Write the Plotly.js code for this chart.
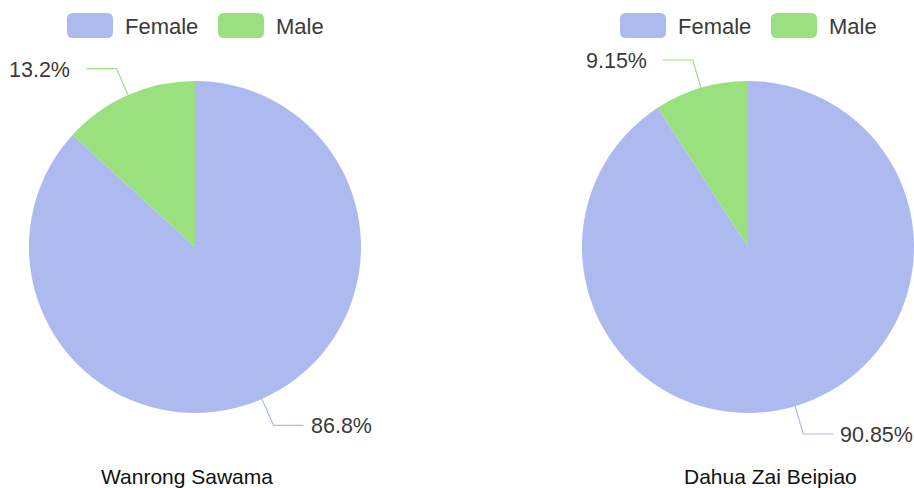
<!DOCTYPE html>
<html>
<head>
<meta charset="utf-8">
<script src="https://cdn.plot.ly/plotly-3.0.1.min.js"></script>
<style>
  html, body { margin: 0; padding: 0; background: #ffffff; }
  #chart { width: 914px; height: 488px; }
</style>
</head>
<body>
<div id="chart"></div>
<script>
// Gender split of two groups, one pie per group
const categories = ['Female', 'Male'];
const groupNames = ['Wanrong Sawama', 'Dahua Zai Beipiao'];
const wanrongShares = [86.8, 13.2];
const dahuaShares = [90.85, 9.15];
const sliceColors = ['#adbaf0', '#9ae07e'];

const W = 914, H = 488;
const FONT = '"Liberation Sans", Arial, Helvetica, sans-serif';

// pixel -> paper helpers
const px = v => v / W;
const py = v => 1 - v / H;

// layout of each pie (pixel space)
const pies = [
  { values: wanrongShares, cx: 195, cy: 247, titleX: 187 },
  { values: dahuaShares,   cx: 748, cy: 247, titleX: 770 }
];
const R = 166;        // pie radius
const R_LINE = 195;   // end of the radial part of the leader line
const H_LINE = 30;    // horizontal part of the leader line

const traces = [];
const shapes = [];
const annotations = [];

function roundRect(x0, y0, x1, y1, r) {
  const p = (x, y) => px(x) + ',' + py(y);
  return 'M' + p(x0 + r, y0) +
    ' L' + p(x1 - r, y0) + ' Q' + p(x1, y0) + ' ' + p(x1, y0 + r) +
    ' L' + p(x1, y1 - r) + ' Q' + p(x1, y1) + ' ' + p(x1 - r, y1) +
    ' L' + p(x0 + r, y1) + ' Q' + p(x0, y1) + ' ' + p(x0, y1 - r) +
    ' L' + p(x0, y0 + r) + ' Q' + p(x0, y0) + ' ' + p(x0 + r, y0) + ' Z';
}

pies.forEach((pie, i) => {
  traces.push({
    type: 'pie',
    labels: categories,
    values: pie.values,
    sort: false,
    direction: 'clockwise',
    rotation: 0,
    textinfo: 'none',
    hoverinfo: 'label+percent',
    showlegend: false,
    marker: { colors: sliceColors, line: { width: 0 } },
    domain: {
      x: [px(pie.cx - R), Math.min(1, px(pie.cx + R))],
      y: [py(pie.cy + R), py(pie.cy - R)]
    }
  });

  // outside labels with leader lines, placed at each slice's mid-angle
  const total = pie.values.reduce((a, b) => a + b, 0);
  let start = 0;
  pie.values.forEach((v, k) => {
    const frac = v / total;
    const theta = (start + frac / 2) * 2 * Math.PI; // clockwise from 12 o'clock
    start += frac;
    const s = Math.sin(theta), c = Math.cos(theta);
    const x0 = pie.cx + R * s, y0 = pie.cy - R * c;
    const x1 = pie.cx + R_LINE * s, y1 = pie.cy - R_LINE * c;
    const side = s >= 0 ? 1 : -1;
    const x2 = x1 + side * H_LINE;
    shapes.push({
      type: 'path', xref: 'paper', yref: 'paper',
      path: 'M' + px(x0) + ',' + py(y0) + ' L' + px(x1) + ',' + py(y1) + ' L' + px(x2) + ',' + py(y1),
      line: { color: sliceColors[k], width: 1.2 }
    });
    annotations.push({
      xref: 'paper', yref: 'paper',
      x: px(x2 + (side > 0 ? 5 : -14)), y: py(y1 + 1),
      xanchor: side > 0 ? 'left' : 'right', yanchor: 'middle',
      text: v + '%', showarrow: false,
      font: { family: FONT, size: 21.5, color: '#3a3a3a' }
    });
  });

  // legend above each pie
  categories.forEach((name, k) => {
    const bx = pie.cx - 128 + k * 151;
    shapes.push({
      type: 'path', xref: 'paper', yref: 'paper',
      path: roundRect(bx, 13, bx + 46, 38, 6),
      fillcolor: sliceColors[k], line: { width: 0 }
    });
    annotations.push({
      xref: 'paper', yref: 'paper',
      x: px(bx + 56), y: py(26),
      xanchor: 'left', yanchor: 'middle',
      text: name, showarrow: false,
      font: { family: FONT, size: 22, color: '#3a3a3a' }
    });
  });

  // group name below each pie
  annotations.push({
    xref: 'paper', yref: 'paper',
    x: px(pie.titleX), y: py(476),
    xanchor: 'center', yanchor: 'middle',
    text: groupNames[i], showarrow: false,
    font: { family: FONT, size: 21, color: '#111111' }
  });
});

const layout = {
  width: W, height: H,
  margin: { l: 0, r: 0, t: 0, b: 0 },
  paper_bgcolor: '#ffffff',
  plot_bgcolor: '#ffffff',
  showlegend: false,
  shapes: shapes,
  annotations: annotations
};

Plotly.newPlot('chart', traces, layout, { displayModeBar: false, staticPlot: true });
</script>
</body>
</html>
